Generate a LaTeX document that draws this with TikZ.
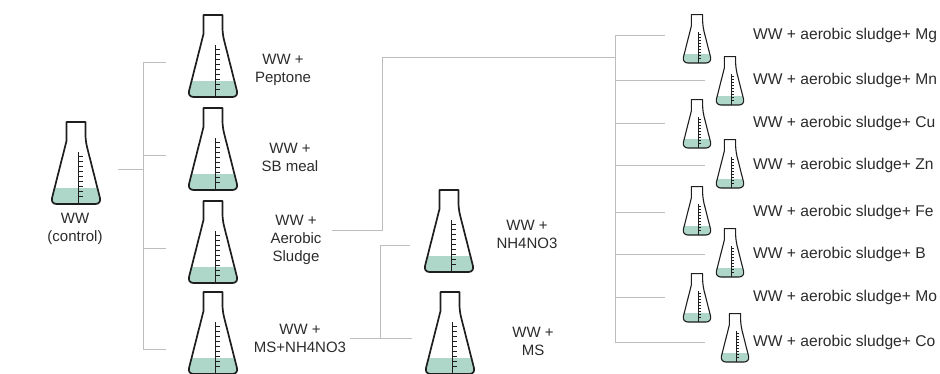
\documentclass[tikz,border=0pt]{standalone}
\usepackage{fontspec}
\setmainfont{Liberation Sans}
\usetikzlibrary{positioning}
\definecolor{ink}{HTML}{2B2B2B}
\definecolor{glassline}{HTML}{1E1E1E}
\definecolor{medium}{HTML}{AED6C9}
\definecolor{wire}{HTML}{BDBDBD}

\begin{document}
\begin{tikzpicture}[x=1pt,y=-1pt,
 lbl/.style={align=center,font=\fontsize{15}{18}\selectfont,text=ink,inner sep=0pt},
 tag/.style={anchor=west,font=\fontsize{15.6}{18}\selectfont,text=ink,inner sep=0pt},
 link/.style={draw=wire,line width=1pt},
 glass/.style={draw=glassline,line width=1.7pt,line join=round},
 scalebar/.style={draw=glassline,line width=0.8pt},
 minifl/.style={scale=0.59,glass/.append style={line width=1.1pt},scalebar/.append style={line width=0.5pt}},
 pics/flask/.style={code={
   % liquid, clipped to the glass
   \begin{scope}
     \clip[rounded corners=5] (-9.5,-82) -- (-9.5,-63) -- (-25.5,0) -- (25.5,0) -- (9.5,-63) -- (9.5,-82) -- cycle;
     \fill[medium] (-26,-16) rectangle (26,1);
   \end{scope}
   \draw[glass] (-9.5,-82) -- (-9.5,-63) {[rounded corners=6] -- (-25.5,0) -- (25.5,0) -- (9.5,-63)} -- (9.5,-82) -- cycle;
   % graduation
   \draw[scalebar] (2,0) -- (2,-52);
   \foreach \t in {8,13,...,48} \draw[scalebar] (2,-\t) -- (7,-\t);
   \coordinate (-w) at (-26,-35); \coordinate (-e) at (26,-35); \coordinate (-s) at (0,0);
 }}]
\useasboundingbox (0,0) rectangle (940,373);

% control and first series
\pic (ctl) at (76,204) {flask};
\node[lbl] (ctlT) at (75,229) {WW\\(control)};
\pic (pep) at (213,97) {flask};
\pic (sb) at (213,190) {flask};
\pic (aer) at (213,283) {flask};
\pic (msn) at (213,374) {flask};
\node[lbl] (pepT) at (283,70) {WW +\\Peptone};
\node[lbl] (sbT) at (290,157) {WW +\\SB meal};
\node[lbl] (aerT) at (296,240) {WW +\\Aerobic\\Sludge};
\node[lbl] (msnT) at (300,338) {WW +\\MS+NH4NO3};

% nitrogen series
\pic (nh) at (449,272) {flask};
\pic (ms) at (450,374) {flask};
\node[lbl] (nhT) at (527,234) {WW +\\NH4NO3};
\node[lbl] (msT) at (533,341) {WW +\\MS};

% metal series
\pic[minifl] (mg) at (697,63) {flask};
\pic[minifl] (mn) at (730,105) {flask};
\pic[minifl] (cu) at (697,148) {flask};
\pic[minifl] (zn) at (730,188) {flask};
\pic[minifl] (fe) at (697,235) {flask};
\pic[minifl] (bor) at (730,277) {flask};
\pic[minifl] (mo) at (697,322) {flask};
\pic[minifl] (co) at (735,362) {flask};
\node[tag] (mgT) at (753,35) {WW + aerobic sludge+ Mg};
\node[tag] (mnT) at (753,80) {WW + aerobic sludge+ Mn};
\node[tag] (cuT) at (753,123) {WW + aerobic sludge+ Cu};
\node[tag] (znT) at (753,165) {WW + aerobic sludge+ Zn};
\node[tag] (feT) at (753,212) {WW + aerobic sludge+ Fe};
\node[tag] (borT) at (753,254) {WW + aerobic sludge+ B};
\node[tag] (moT) at (753,297) {WW + aerobic sludge+ Mo};
\node[tag] (coT) at (753,342) {WW + aerobic sludge+ Co};

% tree lines
\coordinate (ctlJ) at (143,169);
\coordinate (msnB) at ([yshift=-10pt]msn-w);
\draw[link] ([xshift=16pt]ctl-e) -- (ctlJ);
\draw[link] (ctlJ |- pep-w) -- (ctlJ |- msnB);
\draw[link] (ctlJ |- pep-w) -- ([xshift=-21pt]pep-w); \draw[link] (ctlJ |- sb-w) -- ([xshift=-21pt]sb-w);
\draw[link] (ctlJ |- aer-w) -- ([xshift=-21pt]aer-w); \draw[link] (ctlJ |- msnB) -- ([xshift=-21pt]msnB);

\coordinate (aerS) at ([shift={(10pt,10pt)}]aerT.east);
\coordinate (aerK) at (382,57);
\coordinate (metX) at (615,57);
\draw[link] (aerS) -| (aerK) -- (metX);
\draw[link] (metX |- mgT) -- (metX |- coT);
\draw[link] (metX |- mgT) -- ([xshift=-17pt]mg-w |- mgT); \draw[link] (metX |- mnT) -- ([xshift=-10pt]mn-w |- mnT);
\draw[link] (metX |- cuT) -- ([xshift=-17pt]cu-w |- cuT); \draw[link] (metX |- znT) -- ([xshift=-10pt]zn-w |- znT);
\draw[link] (metX |- feT) -- ([xshift=-17pt]fe-w |- feT); \draw[link] (metX |- borT) -- ([xshift=-10pt]bor-w |- borT);
\draw[link] (metX |- moT) -- ([xshift=-17pt]mo-w |- moT); \draw[link] (metX |- coT) -- ([xshift=-15pt]co-w |- coT);

\coordinate (msJ) at (380,245);
\draw[link] ([xshift=4pt]msnT.east) -- ([xshift=-12pt]ms-w |- msnT.east);
\draw[link] (msJ |- msnT.east) -- (msJ) -- ([xshift=-13pt]nh-w |- msJ);
\end{tikzpicture}
\end{document}
